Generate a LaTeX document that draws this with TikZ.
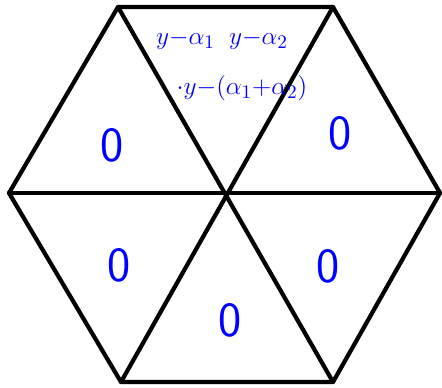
\documentclass[tikz,border=0pt]{standalone}
\usepackage{amsmath,amssymb}
\usepackage{xcolor}
\usetikzlibrary{positioning,calc}
\tikzset{
  edge/.style={draw, line width=2.4pt, line join=round, line cap=round},
  zero/.style={text=blue, font=\sffamily\fontsize{28}{28}\selectfont, inner sep=0pt},
  scrawl/.style={text=blue, font=\fontsize{15}{15}\selectfont, inner sep=0pt}
}
\begin{document}
\begin{tikzpicture}[x=0.02cm,y=-0.02cm]
\useasboundingbox (0,0) rectangle (442,388);
\coordinate (tl) at (118,7);
\coordinate (tr) at (333,7);
\coordinate (r) at (440,193);
\coordinate (br) at (333,382);
\coordinate (bl) at (121,382);
\coordinate (l) at (9,193);
\coordinate (c) at (227,193);

\draw[edge] (tl) -- (tr) -- (r) -- (br) -- (bl) -- (l) -- cycle;
\draw[edge] (tl) -- (br);
\draw[edge] (tr) -- (bl);
\draw[edge] (l) -- (r);

\node[zero] (zul) at (112,145) {0};
\node[zero] (zur) at (340,133) {0};
\node[zero] (zll) at (119,265) {0};
\node[zero] (zlr) at (328,266) {0};
\node[zero] (zb) at (230,320) {0};

\node[scrawl] (roots) at (222,40) {$y{-}\alpha_1\;\; y{-}\alpha_2$};
\node[scrawl] (prod) at (242,88) {$\cdot y{-}(\alpha_1{+}\alpha_2)$};
\end{tikzpicture}
\end{document}
